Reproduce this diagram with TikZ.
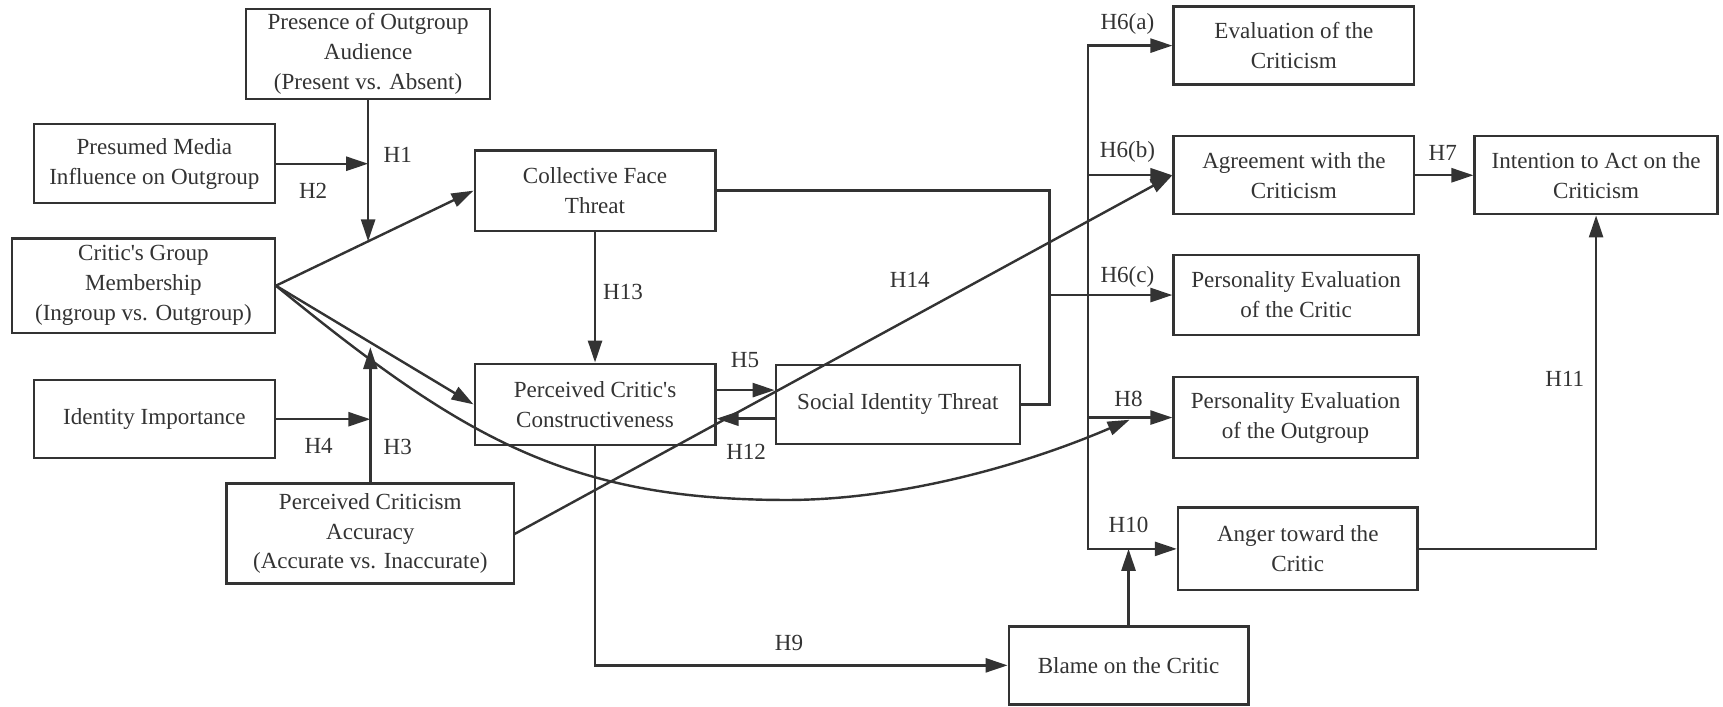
\documentclass[tikz,border=0pt]{standalone}
\usepackage{fontspec}
\setmainfont{Liberation Serif}
\usetikzlibrary{arrows.meta,calc}
\definecolor{ink}{HTML}{333333}
\begin{document}
\begin{tikzpicture}[x=0.5pt,y=-0.5pt,
  box/.style={draw=ink, line width=1.1pt, text=ink, align=center, inner sep=0pt,
              font=\fontsize{10.5}{13.6}\selectfont},
  lbl/.style={text=ink, inner sep=0pt, font=\fontsize{10.5}{13.6}\selectfont},
  link/.style={draw=ink, line width=1.1pt, line cap=rect},
  arr/.style={link, -{Triangle[length=10pt,width=6.4pt]}},
]
\useasboundingbox (0,0) rectangle (1568,642.5);

% ---- variables ----
\node[box, minimum width=111pt,   minimum height=41pt]   (pres)    at (335,49)      {Presence of Outgroup\\Audience\\(Present vs. Absent)};
\node[box, minimum width=109.5pt, minimum height=36pt]   (media)   at (140.5,149)   {Presumed Media\\Influence on Outgroup};
\node[box, minimum width=119.5pt, minimum height=43pt]   (group)   at (130.5,260)   {Critic\textquotesingle s Group\\Membership\\(Ingroup vs. Outgroup)};
\node[box, minimum width=109.5pt, minimum height=35.5pt] (ident)   at (140.5,381.5) {Identity Importance};
\node[box, minimum width=131pt,   minimum height=45.5pt] (accur)   at (337,485.5)   {Perceived Criticism\\Accuracy\\(Accurate vs. Inaccurate)};
\node[box, minimum width=109.5pt, minimum height=36.5pt] (cft)     at (541.5,173.5) {Collective Face\\Threat};
\node[box, minimum width=109.5pt, minimum height=37pt]   (pcc)     at (541.5,368)   {Perceived Critic\textquotesingle s\\Constructiveness};
\node[box, minimum width=111pt,   minimum height=36pt]   (sit)     at (817,368)     {Social Identity Threat};
\node[box, minimum width=109pt,   minimum height=35.5pt] (blame)   at (1027,605.5)  {Blame on the Critic};
\node[box, minimum width=109.5pt, minimum height=35.5pt] (evalc)   at (1177.5,41.5) {Evaluation of the\\Criticism};
\node[box, minimum width=109.5pt, minimum height=35.5pt] (agree)   at (1177.5,159.5){Agreement with the\\Criticism};
\node[box, minimum width=110.5pt, minimum height=35.5pt] (intent)  at (1452.5,159.5){Intention to Act on the\\Criticism};
\node[box, minimum width=111.5pt, minimum height=36.5pt] (pcritic) at (1179.5,268.5){Personality Evaluation\\of the Critic};
\node[box, minimum width=111pt,   minimum height=37pt]   (pout)    at (1179,380)    {Personality Evaluation\\of the Outgroup};
\node[box, minimum width=109pt,   minimum height=37.5pt] (anger)   at (1181,499.5)  {Anger toward the\\Critic};

% ---- helper points ----
\coordinate (h1)    at ($(group.east)!0.467!(cft.west)$);
\coordinate (h3)    at (337,316);
\coordinate (low)   at (716,455);
\coordinate (h8tip) at (1028,382);
\coordinate (j1)    at (955,268.5);
\coordinate (ttop)  at (990,41.5);
\coordinate (tbot)  at (990,499.5);

% ---- moderators ----
\draw[arr] (pres.south) -- (pres.south |- h1);
\draw[arr] (media.east) -- (media.east -| pres.south);
\draw[arr] (accur.north) -- (h3);
\draw[arr] (ident.east) -- (ident.east -| accur.north);

% ---- paths from group membership ----
\draw[arr] (group.east) -- (cft.west);
\draw[arr] (group.east) -- (pcc.west);
\draw[arr] (group.east) .. controls (420,397.7) and (516,455) .. (low)
                        .. controls (816,455) and (928,425) .. (h8tip);

% ---- threat and constructiveness ----
\draw[arr] (cft.south) -- (pcc.north);
\draw[arr] ([yshift=6.5pt]pcc.east) -- ([yshift=6.5pt]sit.west);
\draw[arr] ([yshift=-6.5pt]sit.west) -- ([yshift=-6.5pt]pcc.east);
\draw[arr] (accur.east) -- (agree.west);
\draw[link] (cft.east) -| (j1);
\draw[link] (sit.east) -| (j1);
\draw[arr] (j1) -- (pcritic.west);

% ---- outcome trunk ----
\draw[link] (ttop) -- (tbot);
\draw[arr] (ttop) -- (evalc.west);
\draw[arr] (ttop |- agree.west) -- (agree.west);
\draw[arr] (ttop |- pout.west) -- (pout.west);
\draw[arr] (tbot) -- (anger.west);
\draw[arr] (blame.north) -- (blame.north |- anger.west);
\draw[arr] (pcc.south) |- (blame.west);
\draw[arr] (agree.east) -- (intent.west);
\draw[arr] (anger.east) -| (intent.south);

% ---- hypothesis labels ----
\node[lbl] (lH1)  at (362,141)  {H1};
\node[lbl] (lH2)  at (285,174)  {H2};
\node[lbl] (lH3)  at (362,407)  {H3};
\node[lbl] (lH4)  at (290,406)  {H4};
\node[lbl] (lH13) at (567,266)  {H13};
\node[lbl] (lH5)  at (678,328)  {H5};
\node[lbl] (lH12) at (679,411)  {H12};
\node[lbl] (lH14) at (828,255)  {H14};
\node[lbl] (lH9)  at (718,585)  {H9};
\node[lbl] (lH6a) at (1026,22)  {H6(a)};
\node[lbl] (lH6b) at (1026,138) {H6(b)};
\node[lbl] (lH6c) at (1026,252) {H6(c)};
\node[lbl] (lH8)  at (1027,363) {H8};
\node[lbl] (lH10) at (1027,478) {H10};
\node[lbl] (lH7)  at (1313,139) {H7};
\node[lbl] (lH11) at (1424,345) {H11};
\end{tikzpicture}
\end{document}
